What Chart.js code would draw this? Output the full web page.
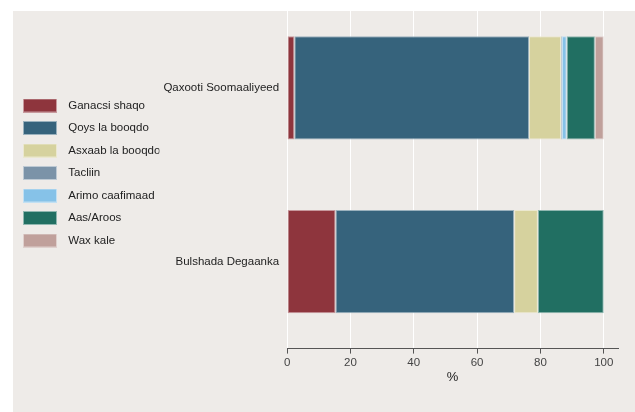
<!DOCTYPE html>
<html>
<head>
<meta charset="utf-8">
<script src="https://cdn.jsdelivr.net/npm/chart.js@4"></script>
<style>
  body { margin: 0; background: #fff; }
  #wrap { width: 635px; height: 412px; }
</style>
</head>
<body>
<div id="wrap"><canvas id="chart" width="635" height="412"></canvas></div>
<script>
const groups = ['Qaxooti Soomaaliyeed', 'Bulshada Degaanka'];
const seriesNames = ['Ganacsi shaqo', 'Qoys la booqdo', 'Asxaab la booqdo', 'Tacliin', 'Arimo caafimaad', 'Aas/Aroos', 'Wax kale'];
const ganacsi = [2.3, 15.3];
const qoys = [74.1, 56.4];
const asxaab = [10.1, 7.5];
const tacliin = [0.3, 0];
const arimo = [1.5, 0];
const aas = [8.9, 20.8];
const waxKale = [2.8, 0];
const xTicks = [0, 20, 40, 60, 80, 100];

const colors = ['#8e353d', '#36637c', '#d6d29e', '#7b93a8', '#86c2e8', '#216f62', '#c0a09b'];
const borders = ['#c7999d', '#9ab1bd', '#ebe8cf', '#bdc9d3', '#c2e0f3', '#90b7b0', '#dfd0cd'];
const values = [ganacsi, qoys, asxaab, tacliin, arimo, aas, waxKale];

// legend swatches as small canvases so the box can be wider than the font
function swatch(fill, line) {
    const c = document.createElement('canvas');
    c.width = 34;
    c.height = 14;
    const g = c.getContext('2d');
    g.fillStyle = line;
    g.fillRect(0, 0, 34, 14);
    g.fillStyle = fill;
    g.fillRect(1, 1, 32, 12);
    return c;
}
const swatches = colors.map((c, i) => swatch(c, borders[i]));

const bgPlugin = {
    id: 'bg',
    beforeDraw(chart) {
        const ctx = chart.ctx;
        ctx.save();
        ctx.fillStyle = '#ffffff';
        ctx.fillRect(0, 0, chart.width, chart.height);
        ctx.fillStyle = '#eeebe8';
        ctx.fillRect(13, 11, chart.width - 13, chart.height - 11);
        ctx.restore();
    }
};

// the original legend sits a little above the middle
const legendNudge = {
    id: 'legendNudge',
    afterLayout(chart) {
        chart.legend.top -= 20;
        chart.legend.bottom -= 20;
    }
};

const font = { family: "'Liberation Sans', Arial, Helvetica, sans-serif", size: 11.5 };

const chart = new Chart(document.getElementById('chart').getContext('2d'), {
    type: 'bar',
    data: {
        labels: groups,
        datasets: seriesNames.map((name, i) => ({
            label: name,
            data: values[i],
            backgroundColor: colors[i],
            borderColor: borders[i],
            borderWidth: 1,
            borderSkipped: false,
            categoryPercentage: 1,
            barPercentage: 0.594
        }))
    },
    plugins: [bgPlugin, legendNudge],
    options: {
        responsive: false,
        animation: false,
        indexAxis: 'y',
        layout: { padding: { left: 6.5, right: 17, top: 1, bottom: 27 } },
        plugins: {
            tooltip: { enabled: false },
            legend: {
                position: 'left',
                labels: {
                    usePointStyle: true,
                    pointStyleWidth: 45,
                    padding: 11,
                    color: '#222',
                    font: font,
                    generateLabels(chart) {
                        const items = Chart.defaults.plugins.legend.labels.generateLabels(chart);
                        items.forEach((it, i) => { it.pointStyle = swatches[i]; });
                        return items;
                    }
                }
            }
        },
        scales: {
            x: {
                stacked: true,
                min: 0,
                max: 104.5,
                afterBuildTicks(scale) {
                    scale.ticks = xTicks.map(v => ({ value: v }));
                },
                grid: { color: '#ffffff', lineWidth: 1, tickColor: '#555', tickLength: 5 },
                border: { display: true, color: '#555', width: 1 },
                ticks: { color: '#444', font: font, padding: 2, maxRotation: 0 },
                title: {
                    display: true, text: '%', color: '#222',
                    font: { family: font.family, size: 13 },
                    padding: { top: -2, bottom: 0 }
                }
            },
            y: {
                stacked: true,
                grid: { display: false, drawTicks: false },
                border: { display: false },
                ticks: { color: '#222', font: font, padding: 8 },
                afterFit(scale) {
                    scale.paddingTop = 0;
                    scale.paddingBottom = 0;
                    scale.width -= 4;
                }
            }
        }
    }
});
</script>
</body>
</html>
